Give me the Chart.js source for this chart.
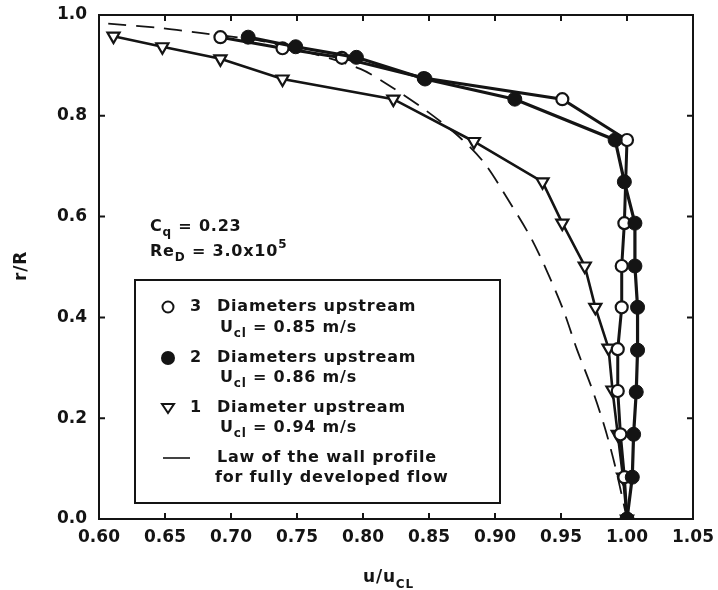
<!DOCTYPE html>
<html>
<head>
<meta charset="utf-8">
<script src="https://cdn.jsdelivr.net/npm/chart.js@4.4.1/dist/chart.umd.min.js"></script>
<style>
  html, body { margin: 0; padding: 0; background: #fff; }
  #wrap { width: 718px; height: 590px; position: relative; }
</style>
</head>
<body>
<div id="wrap"><canvas id="c" width="718" height="590"></canvas></div>
<script>
// ---- Data ----
// 3 Diameters upstream (open circles)
const u3 = [0.692, 0.739, 0.784, 0.846, 0.951, 1.000, 0.998, 0.996, 0.996, 0.993, 0.993, 0.995, 0.998, 1.000];
const r3 = [0.956, 0.934, 0.915, 0.875, 0.833, 0.752, 0.587, 0.502, 0.420, 0.337, 0.254, 0.168, 0.083, 0.000];
// 2 Diameters upstream (filled circles)
const u2 = [0.713, 0.749, 0.795, 0.847, 0.915, 0.991, 0.998, 1.006, 1.006, 1.008, 1.008, 1.007, 1.005, 1.004, 1.000];
const r2 = [0.956, 0.937, 0.916, 0.873, 0.833, 0.752, 0.669, 0.587, 0.502, 0.420, 0.335, 0.252, 0.168, 0.083, 0.000];
// 1 Diameter upstream (triangles)
const u1 = [0.611, 0.648, 0.692, 0.739, 0.823, 0.884, 0.936, 0.951, 0.968, 0.976, 0.986, 0.989, 0.993, 0.997, 1.000];
const r1 = [0.958, 0.937, 0.913, 0.873, 0.833, 0.749, 0.669, 0.587, 0.502, 0.420, 0.339, 0.256, 0.168, 0.083, 0.000];
// Law of the wall profile (dashed)
const uW = [0.607, 0.647, 0.678, 0.720, 0.760, 0.798, 0.824, 0.848, 0.873, 0.892, 0.911, 0.927, 0.940, 0.952, 0.962, 0.973, 0.983, 0.991, 1.000];
const rW = [0.983, 0.974, 0.964, 0.950, 0.925, 0.893, 0.853, 0.810, 0.758, 0.706, 0.629, 0.559, 0.488, 0.413, 0.337, 0.262, 0.183, 0.105, 0.000];

const xTicks = [0.60, 0.65, 0.70, 0.75, 0.80, 0.85, 0.90, 0.95, 1.00, 1.05];
const yTicks = [0.0, 0.2, 0.4, 0.6, 0.8, 1.0];

const legendLines = [
  { num: '3', text: 'Diameters upstream', uText: ' = 0.85 m/s' },
  { num: '2', text: 'Diameters upstream', uText: ' = 0.86 m/s' },
  { num: '1', text: 'Diameter upstream',  uText: ' = 0.94 m/s' }
];
const wallText = ['Law of the wall profile', 'for fully developed flow'];

const pts = (xs, ys) => xs.map((x, i) => ({ x: x, y: ys[i] }));

const INK = '#141414';
const FONT = '"DejaVu Sans", sans-serif';

function drawRich(ctx, parts, x, y, size) {
  let cx = x;
  for (const p of parts) {
    const s = (p.sub || p.sup) ? Math.round(size * 0.72) : size;
    ctx.font = 'bold ' + s + 'px ' + FONT;
    const dy = p.sub ? size * 0.38 : (p.sup ? -size * 0.42 : 0);
    ctx.fillText(p.t, cx, y + dy);
    cx += ctx.measureText(p.t).width;
  }
  return cx;
}

const decor = {
  id: 'decor',
  afterDraw(chart) {
    const ctx = chart.ctx;
    const xs = chart.scales.x, ys = chart.scales.y;
    const a = chart.chartArea;
    ctx.save();
    ctx.strokeStyle = INK;
    ctx.fillStyle = INK;
    // frame
    ctx.lineWidth = 2;
    ctx.strokeRect(a.left, a.top, a.right - a.left, a.bottom - a.top);
    // inward ticks
    const tl = 6;
    xTicks.forEach(v => {
      const px = xs.getPixelForValue(v);
      if (px <= a.left + 1 || px >= a.right - 1) return;
      ctx.beginPath();
      ctx.moveTo(px, a.bottom); ctx.lineTo(px, a.bottom - tl);
      ctx.moveTo(px, a.top); ctx.lineTo(px, a.top + tl);
      ctx.stroke();
    });
    yTicks.forEach(v => {
      const py = ys.getPixelForValue(v);
      if (py <= a.top + 1 || py >= a.bottom - 1) return;
      ctx.beginPath();
      ctx.moveTo(a.left, py); ctx.lineTo(a.left + tl, py);
      ctx.moveTo(a.right, py); ctx.lineTo(a.right - tl, py);
      ctx.stroke();
    });

    ctx.textBaseline = 'middle';
    ctx.textAlign = 'left';
    ctx.letterSpacing = '0.8px';
    // annotations
    drawRich(ctx, [{t:'C'},{t:'q',sub:true},{t:' = 0.23'}], 150, 227, 16);
    drawRich(ctx, [{t:'Re'},{t:'D',sub:true},{t:' = 3.0x10'},{t:'5',sup:true}], 150, 252, 16);

    // legend box
    ctx.lineWidth = 2;
    ctx.fillStyle = '#fff';
    ctx.fillRect(135, 280, 365, 223);
    ctx.strokeRect(135, 280, 365, 223);
    ctx.fillStyle = INK;

    const rowsY = [307, 358, 408];
    const uRowsY = [328, 378, 428];
    // legend markers
    ctx.lineWidth = 2;
    ctx.beginPath(); ctx.arc(168, rowsY[0], 5.5, 0, Math.PI * 2);
    ctx.fillStyle = '#fff'; ctx.fill(); ctx.stroke();
    ctx.fillStyle = INK;
    ctx.beginPath(); ctx.arc(168, rowsY[1], 7, 0, Math.PI * 2); ctx.fill();
    ctx.beginPath();
    ctx.moveTo(162, rowsY[2] - 4); ctx.lineTo(174, rowsY[2] - 4); ctx.lineTo(168, rowsY[2] + 5); ctx.closePath();
    ctx.fillStyle = '#fff'; ctx.fill(); ctx.stroke();
    ctx.fillStyle = INK;
    ctx.lineWidth = 1.6;
    ctx.beginPath(); ctx.moveTo(163, 458); ctx.lineTo(190, 458); ctx.stroke();

    legendLines.forEach((L, i) => {
      ctx.font = 'bold 16px ' + FONT;
      ctx.fillText(L.num, 190, rowsY[i]);
      ctx.fillText(L.text, 217, rowsY[i]);
      drawRich(ctx, [{t:'U'},{t:'cl',sub:true},{t:L.uText}], 220, uRowsY[i], 16);
    });
    ctx.font = 'bold 16px ' + FONT;
    ctx.fillText(wallText[0], 217, 458);
    ctx.fillText(wallText[1], 215, 478);

    // x title
    drawRich(ctx, [{t:'u/u'},{t:'CL',sub:true}], 363, 578, 17);

    // y title
    ctx.save();
    ctx.translate(22, 266);
    ctx.rotate(-Math.PI / 2);
    ctx.textAlign = 'center';
    ctx.font = 'bold 17px ' + FONT;
    ctx.fillText('r/R', 0, 0);
    ctx.restore();

    ctx.restore();
  }
};

new Chart(document.getElementById('c'), {
  type: 'line',
  data: {
    datasets: [
      {
        label: '2 Diameters upstream',
        data: pts(u2, r2), order: 0,
        borderColor: INK, borderWidth: 3.2,
        pointStyle: 'circle', pointRadius: 7, pointBackgroundColor: INK, pointBorderColor: INK, pointBorderWidth: 1
      },
      {
        label: '3 Diameters upstream',
        data: pts(u3, r3), order: 1,
        borderColor: INK, borderWidth: 3,
        pointStyle: 'circle', pointRadius: 6, pointBackgroundColor: '#fff', pointBorderColor: INK, pointBorderWidth: 2.2
      },
      {
        label: '1 Diameter upstream',
        data: pts(u1, r1), order: 2,
        borderColor: INK, borderWidth: 2.6,
        pointStyle: 'triangle', pointRotation: 180, pointRadius: 7, pointBackgroundColor: '#fff', pointBorderColor: INK, pointBorderWidth: 2.2
      },
      {
        label: 'Law of the wall',
        data: pts(uW, rW), order: 3,
        borderColor: INK, borderWidth: 1.8, borderDash: [18, 10],
        pointRadius: 0, tension: 0.3
      }
    ]
  },
  options: {
    responsive: false,
    animation: false,
    layout: { padding: { top: 15, right: 25, left: 0, bottom: 0 } },
    plugins: { legend: { display: false }, tooltip: { enabled: false } },
    scales: {
      x: {
        type: 'linear', min: 0.6, max: 1.05,
        afterBuildTicks: s => { s.ticks = xTicks.map(v => ({ value: v })); },
        afterFit: s => { s.height = 71; },
        grid: { display: false },
        border: { display: true, color: INK, width: 2 },
        ticks: {
          color: INK, padding: 0,
          font: { family: FONT, size: 17, weight: 'bold' },
          callback: v => Number(v).toFixed(2),
          maxRotation: 0, autoSkip: false
        }
      },
      y: {
        type: 'linear', min: 0, max: 1,
        afterBuildTicks: s => { s.ticks = yTicks.map(v => ({ value: v })); },
        afterFit: s => { s.width = 99; },
        grid: { display: false },
        border: { display: true, color: INK, width: 2 },
        ticks: {
          color: INK, padding: 4,
          font: { family: FONT, size: 17, weight: 'bold' },
          callback: v => Number(v).toFixed(1)
        }
      }
    }
  },
  plugins: [decor]
});
</script>
</body>
</html>
